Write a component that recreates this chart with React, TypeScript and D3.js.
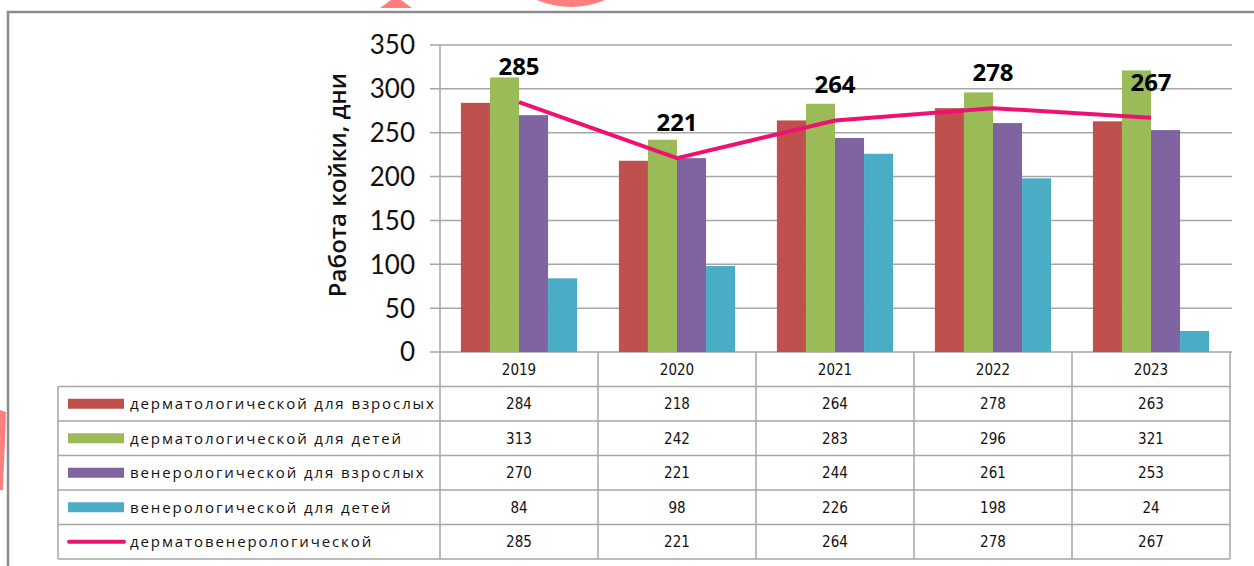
import * as d3 from "d3";

const YEARS = ["2019", "2020", "2021", "2022", "2023"];
const SERIES = [
  "дерматологической для взрослых",
  "дерматологической для детей",
  "венерологической для взрослых",
  "венерологической для детей",
];
const DERM_ADULT = [284, 218, 264, 278, 263];
const DERM_CHILD = [313, 242, 283, 296, 321];
const VEN_ADULT = [270, 221, 244, 261, 253];
const VEN_CHILD = [84, 98, 226, 198, 24];
const LINE_NAME = "дерматовенерологической";
const TOTAL = [285, 221, 264, 278, 267];
const Y_TICKS = [0, 50, 100, 150, 200, 250, 300, 350];

const BARS = [DERM_ADULT, DERM_CHILD, VEN_ADULT, VEN_CHILD];
const COLORS = ["#c0504d", "#9bbb59", "#8064a2", "#4bacc6"];
const LINE_COLOR = "#ee1172";
const GRID = "#a6a6a6";
const W = 1254, H = 566;

const PLOT = { left: 440, right: 1230, top: 45, bottom: 352 };
const ROW_H = 34.5;
const LEGEND_LEFT = 58;

export default function App() {
  const x = d3.scaleBand().domain(YEARS).range([PLOT.left, PLOT.right]);
  const inner = d3.scaleBand<number>()
    .domain(d3.range(BARS.length))
    .range([0, x.bandwidth()])
    .paddingInner(0)
    .paddingOuter(0.72);
  const y = d3.scaleLinear().domain([0, 350]).range([PLOT.bottom, PLOT.top]);

  const cx = (yr: string) => (x(yr) ?? 0) + x.bandwidth() / 2;
  const line = d3.line<number>()
    .x((_, i) => cx(YEARS[i]))
    .y(d => y(d));

  const tableRows = [...BARS, TOTAL];
  const rowNames = [...SERIES, LINE_NAME];
  const rowTop = (i: number) => PLOT.bottom + ROW_H * (i + 1);
  const tableBottom = rowTop(tableRows.length);
  const narrow = "'Liberation Sans Narrow', 'DejaVu Sans Condensed', sans-serif";

  return (
    <div style={{ position: "absolute", left: 0, top: 0 }}>
      <svg width={W} height={H} style={{ display: "block", background: "#fff" }}>
        {/* watermark scraps */}
        <path d="M391,0 L401,0 L412,8 L380,8 Z" fill="#ff7f7f" />
        <circle cx={571} cy={-79} r={86} fill="#ff7f7f" />
        <path d="M0,410 L6,412 L3,490 L0,490 Z" fill="#ff7f7f" />

        {/* frame */}
        <path d={`M8,${H} L8,12 L${W},12`} fill="none" stroke="#8c8c8c" strokeWidth={2.5} />

        {/* grid + ticks */}
        {Y_TICKS.map(t => (
          <g key={t}>
            <line x1={PLOT.left - 10} x2={PLOT.right + 2} y1={y(t)} y2={y(t)} stroke={GRID} strokeWidth={1.5} />
            <text x={415} y={y(t)} dy="0.36em" textAnchor="end" fontFamily="Lato, sans-serif" fontSize={26} fill="#111">{t}</text>
          </g>
        ))}

        <text transform="translate(346,185) rotate(-90)" textAnchor="middle"
          fontFamily="'Open Sans', sans-serif" fontSize={24} fontWeight={600} fill="#111">Работа койки, дни</text>

        {/* bars */}
        {BARS.map((vals, s) => (
          <g key={s}>
            {vals.map((v, i) => (
              <rect key={i} x={(x(YEARS[i]) ?? 0) + (inner(s) ?? 0)} y={y(v)} width={inner.bandwidth()}
                height={y(0) - y(v)} fill={COLORS[s]} />
            ))}
          </g>
        ))}

        {/* line */}
        <path d={line(TOTAL) ?? ""} fill="none" stroke={LINE_COLOR} strokeWidth={4} strokeLinejoin="round" />
        {TOTAL.map((v, i) => (
          <text key={i} x={cx(YEARS[i])} y={y(v) - 27} textAnchor="middle" fontFamily="'Open Sans', sans-serif"
            fontWeight={700} fontSize={24} fill="#000">{v}</text>
        ))}

        {/* data table */}
        <g stroke={GRID} strokeWidth={1.5} fill="none">
          <line x1={PLOT.left} x2={PLOT.left} y1={PLOT.top} y2={tableBottom} />
          {YEARS.map(yr => (
            <line key={yr} x1={(x(yr) ?? 0) + x.bandwidth()} x2={(x(yr) ?? 0) + x.bandwidth()} y1={PLOT.bottom} y2={tableBottom} />
          ))}
          <line x1={LEGEND_LEFT} x2={LEGEND_LEFT} y1={rowTop(0)} y2={tableBottom} />
          {tableRows.map((_, i) => (
            <line key={i} x1={LEGEND_LEFT} x2={PLOT.right} y1={rowTop(i)} y2={rowTop(i)} />
          ))}
          <line x1={LEGEND_LEFT} x2={PLOT.right} y1={tableBottom} y2={tableBottom} />
        </g>

        {YEARS.map(yr => (
          <text key={yr} x={cx(yr)} y={PLOT.bottom + ROW_H / 2} dy="0.36em" textAnchor="middle"
            fontFamily={narrow} fontSize={15} fill="#111">{yr}</text>
        ))}

        {tableRows.map((vals, r) => (
          <g key={r}>
            {r < BARS.length
              ? <rect x={68} y={rowTop(r) + ROW_H / 2 - 5} width={56} height={10} fill={COLORS[r]} />
              : <line x1={69} x2={124} y1={rowTop(r) + ROW_H / 2} y2={rowTop(r) + ROW_H / 2} stroke={LINE_COLOR} strokeWidth={4} strokeLinecap="round" />}
            <text x={130} y={rowTop(r) + ROW_H / 2} dy="0.36em" fontFamily="'Open Sans', sans-serif" fontSize={15}
              letterSpacing={1.9} fill="#111">{rowNames[r]}</text>
            {vals.map((v, i) => (
              <text key={i} x={cx(YEARS[i])} y={rowTop(r) + ROW_H / 2} dy="0.36em" textAnchor="middle"
                fontFamily={narrow} fontSize={15} fill="#111">{v}</text>
            ))}
          </g>
        ))}
      </svg>
    </div>
  );
}
